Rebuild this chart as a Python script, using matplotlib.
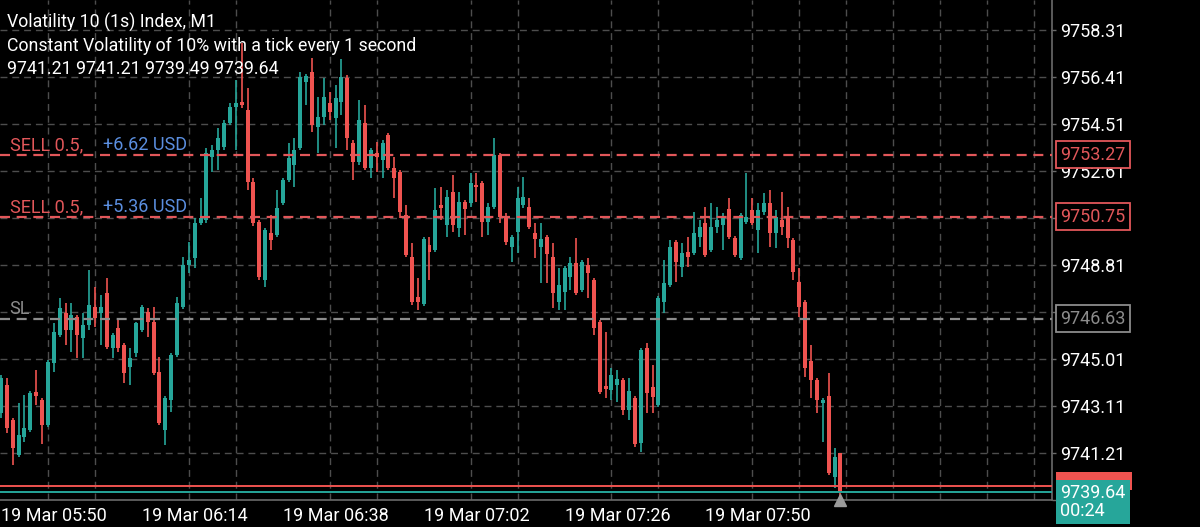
import matplotlib
matplotlib.use('Agg')
import matplotlib.pyplot as plt
from matplotlib.patches import Rectangle
import numpy as np

# one-minute candles, 19 Mar 05:50 onwards
opens = [9742.83, 9743.96, 9742.54, 9741.13, 9741.86, 9742.14, 9743.68, 9743.35, 9742.34, 9744.85,
         9745.98, 9746.87, 9746.18, 9746.71, 9745.86, 9746.38, 9747.11, 9746.87, 9747.68, 9745.45,
         9746.26, 9745.58, 9744.69, 9745.25, 9746.18, 9746.91, 9746.50, 9744.48, 9742.14, 9743.35,
         9745.17, 9747.11, 9748.81, 9749.09, 9750.51, 9750.63, 9753.17, 9753.46, 9753.58, 9754.55,
         9755.20, 9755.40, 9755.07, 9752.16, 9750.55, 9748.20, 9750.10, 9750.02, 9751.31, 9752.24,
         9752.85, 9753.54, 9756.21, 9756.61, 9754.39, 9754.79, 9755.36, 9754.75, 9755.40, 9756.37,
         9753.74, 9752.97, 9754.55, 9752.73, 9753.34, 9753.05, 9754.06, 9752.73, 9752.57, 9750.83,
         9749.13, 9747.52, 9747.23, 9749.62, 9749.42, 9751.23, 9750.43, 9751.76, 9750.30, 9751.35,
         9751.31, 9752.04, 9752.12, 9750.55, 9751.15, 9753.25, 9750.75, 9749.54, 9750.14, 9751.23,
         9751.15, 9750.10, 9749.54, 9749.94, 9749.13, 9747.31, 9747.72, 9748.32, 9748.89, 9747.80,
         9748.81, 9748.20, 9746.50, 9743.92, 9743.76, 9743.96, 9744.16, 9742.95, 9743.43, 9741.61,
         9745.45, 9743.88, 9743.15, 9747.31, 9748.00, 9749.74, 9748.73, 9749.33, 9749.29, 9749.94,
         9750.51, 9749.42, 9750.34, 9750.43, 9751.07, 9749.90, 9749.09, 9750.55, 9751.03, 9750.22,
         9750.95, 9751.31, 9750.10, 9750.63, 9750.71, 9749.82, 9748.12, 9747.31, 9744.93, 9744.16,
         9743.23, 9743.51, 9740.24, 9741.21]
highs = [9744.36, 9744.24, 9742.62, 9743.23, 9743.55, 9743.72, 9744.56, 9743.43, 9744.97, 9746.46,
         9747.47, 9747.27, 9747.27, 9746.79, 9746.87, 9748.61, 9747.92, 9747.60, 9748.28, 9746.06,
         9746.59, 9745.66, 9745.45, 9746.50, 9747.19, 9747.07, 9747.11, 9745.09, 9743.51, 9745.25,
         9747.52, 9749.13, 9749.74, 9750.71, 9751.52, 9753.54, 9753.66, 9754.35, 9754.67, 9755.36,
         9756.29, 9757.78, 9755.96, 9752.33, 9750.63, 9750.30, 9750.83, 9751.84, 9752.33, 9753.74,
         9753.94, 9756.61, 9756.53, 9757.18, 9755.60, 9756.37, 9755.80, 9756.08, 9757.14, 9756.49,
         9753.86, 9755.48, 9755.28, 9753.54, 9753.78, 9753.86, 9754.14, 9753.17, 9752.65, 9751.23,
         9749.70, 9748.28, 9749.94, 9749.94, 9751.92, 9751.96, 9751.84, 9752.45, 9751.76, 9751.44,
         9752.53, 9752.53, 9752.20, 9751.31, 9753.94, 9753.34, 9750.91, 9750.02, 9751.96, 9752.37,
         9751.52, 9750.51, 9750.51, 9750.02, 9749.70, 9748.69, 9748.77, 9749.13, 9749.90, 9749.01,
         9749.09, 9748.28, 9746.59, 9746.10, 9744.65, 9744.56, 9744.24, 9744.24, 9743.51, 9745.45,
         9745.66, 9744.77, 9747.56, 9749.01, 9749.82, 9749.82, 9749.70, 9749.94, 9750.95, 9750.63,
         9751.15, 9751.31, 9751.15, 9750.91, 9751.52, 9749.98, 9750.91, 9752.53, 9751.52, 9751.31,
         9751.72, 9751.84, 9751.03, 9751.76, 9751.15, 9749.90, 9748.69, 9747.39, 9745.58, 9744.24,
         9743.43, 9744.44, 9741.41, 9741.21]
lows = [9742.62, 9742.02, 9740.73, 9741.05, 9741.65, 9742.06, 9743.15, 9741.57, 9742.26, 9744.48,
        9745.90, 9745.58, 9745.29, 9745.05, 9745.05, 9746.18, 9746.30, 9745.58, 9745.41, 9745.05,
        9745.29, 9744.04, 9743.96, 9745.09, 9746.10, 9745.90, 9744.36, 9742.34, 9741.53, 9742.87,
        9745.09, 9747.03, 9748.48, 9748.69, 9750.43, 9750.51, 9752.57, 9752.65, 9753.46, 9754.47,
        9753.46, 9755.15, 9751.84, 9750.39, 9748.20, 9747.92, 9749.42, 9749.94, 9751.23, 9752.16,
        9751.96, 9753.46, 9755.28, 9754.19, 9753.34, 9754.47, 9754.67, 9753.54, 9754.87, 9753.46,
        9752.24, 9752.85, 9752.65, 9752.33, 9752.57, 9752.33, 9752.65, 9751.52, 9750.71, 9749.13,
        9747.19, 9746.99, 9747.15, 9748.20, 9749.33, 9750.63, 9749.94, 9750.14, 9749.94, 9750.02,
        9751.15, 9751.35, 9749.94, 9750.02, 9751.07, 9750.51, 9749.62, 9748.93, 9749.29, 9751.11,
        9750.26, 9749.09, 9748.08, 9748.08, 9747.07, 9746.99, 9746.99, 9747.80, 9747.60, 9747.72,
        9747.47, 9745.98, 9743.60, 9743.43, 9743.35, 9743.27, 9742.75, 9742.54, 9741.45, 9741.25,
        9742.83, 9742.83, 9743.07, 9746.87, 9747.92, 9748.12, 9748.32, 9748.73, 9749.21, 9749.54,
        9749.13, 9749.33, 9750.10, 9749.42, 9749.86, 9749.13, 9749.01, 9750.47, 9750.43, 9749.29,
        9750.83, 9749.54, 9749.50, 9750.02, 9749.50, 9748.20, 9746.71, 9744.28, 9743.43, 9742.83,
        9741.65, 9740.32, 9739.80, 9739.49]
closes = [9744.24, 9742.22, 9741.41, 9741.94, 9742.22, 9743.64, 9743.51, 9742.34, 9744.89, 9746.10,
          9747.07, 9746.18, 9746.79, 9745.98, 9746.38, 9747.19, 9746.67, 9747.11, 9745.49, 9745.98,
          9745.45, 9744.44, 9745.05, 9746.46, 9747.11, 9746.50, 9744.44, 9742.42, 9743.43, 9745.17,
          9747.27, 9748.81, 9749.01, 9750.51, 9750.71, 9753.34, 9753.46, 9753.94, 9754.55, 9755.20,
          9755.36, 9755.28, 9752.16, 9750.51, 9748.32, 9750.22, 9749.82, 9751.11, 9752.24, 9753.13,
          9753.46, 9756.41, 9756.45, 9754.47, 9754.79, 9755.60, 9754.99, 9755.56, 9756.41, 9753.94,
          9752.97, 9754.67, 9752.73, 9753.46, 9753.17, 9753.74, 9752.73, 9752.33, 9750.95, 9749.21,
          9747.31, 9747.31, 9749.86, 9749.33, 9751.03, 9751.11, 9751.56, 9750.43, 9751.35, 9751.07,
          9752.12, 9751.96, 9750.55, 9751.15, 9753.25, 9750.75, 9749.74, 9749.94, 9751.52, 9751.56,
          9750.34, 9749.86, 9749.86, 9749.25, 9747.68, 9748.00, 9748.69, 9748.89, 9747.68, 9748.93,
          9748.48, 9746.26, 9743.68, 9743.80, 9744.36, 9744.20, 9742.95, 9743.72, 9741.57, 9745.37,
          9743.64, 9743.47, 9747.47, 9748.08, 9749.54, 9748.93, 9749.29, 9749.13, 9750.10, 9750.34,
          9749.21, 9750.34, 9750.63, 9750.75, 9749.94, 9749.21, 9750.83, 9750.75, 9750.51, 9751.03,
          9751.31, 9750.10, 9750.75, 9750.34, 9749.90, 9748.53, 9747.11, 9744.65, 9744.16, 9743.35,
          9743.35, 9740.40, 9741.05, 9739.64]

time_labels = ['19 Mar 05:50', '19 Mar 06:14', '19 Mar 06:38', '19 Mar 07:02', '19 Mar 07:26', '19 Mar 07:50']
label_every = 24
grid_every = 8
price_ticks = [9758.31, 9756.41, 9754.51, 9752.61, 9750.71, 9748.81, 9746.91, 9745.01, 9743.11, 9741.21, 9739.31]
hidden_ticks = [9750.71, 9746.91, 9739.31]   # covered by the order boxes
sell_levels = [9753.27, 9750.75]
sell_profits = ['+6.62 USD', '+5.36 USD']
sl_level = 9746.63
bid = 9739.64
ask = 9739.88
timer = '00:24'
header = ['Volatility 10 (1s) Index, M1',
          'Constant Volatility of 10% with a tick every 1 second',
          '9741.21 9741.21 9739.49 9739.64']

teal = '#26a69a'
red = '#ef5350'
red_line = '#e2575a'
blue = '#5b8fe0'
grid_col = '#4d4d4d'
axis_col = '#6a6a6a'
sl_col = '#8c8c8c'

plt.rcParams['font.family'] = ['Roboto', 'DejaVu Sans']

fig = plt.figure(figsize=(12, 5.27), dpi=100, facecolor='black')
ax = fig.add_axes([0, 27 / 527, 1052 / 1200, 500 / 527])
ax.set_facecolor('black')

n = len(closes)
x = np.arange(n)
o = np.array(opens)
c = np.array(closes)
up = c >= o
colors = np.where(up, teal, red)

ax.vlines(x, lows, highs, colors=colors, linewidth=1.2, zorder=3)
body_bottom = np.minimum(o, c)
body_h = np.maximum(np.abs(c - o), 0.07)
ax.bar(x, body_h, bottom=body_bottom, width=0.68, color=colors, linewidth=0, zorder=4)

ax.set_xlim(-0.17, 179.05)
ax.set_ylim(9739.31, 9759.52)

# grid
ax.set_xticks(np.arange(len(time_labels)) * label_every)
ax.set_xticklabels(time_labels, ha='left')
ax.set_xticks(np.arange(0, 180, grid_every), minor=True)
ax.xaxis.grid(True, which='minor', color=grid_col, linewidth=1, dashes=(5, 3.5))
ax.yaxis.tick_right()
ax.set_yticks(price_ticks)
ax.set_yticklabels(['' if p in hidden_ticks else '{:.2f}'.format(p) for p in price_ticks])
ax.yaxis.grid(True, which='major', color=grid_col, linewidth=1, dashes=(5, 3.5))
ax.set_axisbelow(True)
ax.tick_params(axis='x', which='both', length=0, pad=5, labelsize=13, labelcolor='white')
ax.tick_params(axis='y', length=3, width=1, color=axis_col, pad=3, labelsize=13, labelcolor='white')
for s in ['left', 'top']:
    ax.spines[s].set_visible(False)
for s in ['right', 'bottom']:
    ax.spines[s].set_color(axis_col)
    ax.spines[s].set_linewidth(1.2)

ytr = ax.get_yaxis_transform()

# open positions
for level, profit in zip(sell_levels, sell_profits):
    ax.axhline(level, color=red_line, linewidth=1.6, dashes=(4.5, 3), zorder=5)
    ax.annotate('SELL 0.5,', xy=(0, level), xycoords=ytr, xytext=(7, 7), textcoords='offset points',
                color=red_line, fontsize=13, va='center', ha='left')
    ax.annotate(profit, xy=(0, level), xycoords=ytr, xytext=(74, 7), textcoords='offset points',
                color=blue, fontsize=13, va='center', ha='left')
    ax.annotate('{:.2f}'.format(level), xy=(1, level), xycoords=ytr, xytext=(6, 0), textcoords='offset points',
                color=red_line, fontsize=13, va='center', ha='left', annotation_clip=False, zorder=10,
                bbox=dict(boxstyle='square,pad=0.25', fc='black', ec=red_line, lw=1.3))

ax.axhline(sl_level, color=sl_col, linewidth=1.6, dashes=(4.5, 3), zorder=5)
ax.annotate('SL', xy=(0, sl_level), xycoords=ytr, xytext=(7, 7), textcoords='offset points',
            color=sl_col, fontsize=13, va='center', ha='left')
ax.annotate('{:.2f}'.format(sl_level), xy=(1, sl_level), xycoords=ytr, xytext=(6, 0), textcoords='offset points',
            color=sl_col, fontsize=13, va='center', ha='left', annotation_clip=False, zorder=10,
            bbox=dict(boxstyle='square,pad=0.25', fc='black', ec=sl_col, lw=1.3))

# bid / ask
ax.axhline(ask, color=red, linewidth=1.4, zorder=5)
ax.axhline(bid, color=teal, linewidth=1.4, zorder=5)
ax.add_patch(Rectangle((1.004, ask - 0.15), 0.072, 0.72, transform=ytr, facecolor=red,
                       edgecolor='none', clip_on=False, zorder=10))
ax.annotate('{:.2f}\n{}'.format(bid, timer), xy=(1, bid), xytext=(6, 5.5), xycoords=ytr, textcoords='offset points',
            color='white', fontsize=13, va='top', ha='left', annotation_clip=False, zorder=11, linespacing=1.0,
            bbox=dict(boxstyle='square,pad=0.22', fc=teal, ec=teal, lw=0))

# current candle marker
ax.plot([n - 1], [ax.get_ylim()[0]], marker='^', color='#9a9a9a', markersize=8, clip_on=False, zorder=6)

# header
for k, line in enumerate(header):
    fig.text(7 / 1200, 1 - (22 + 23.5 * k) / 527, line, color='white', fontsize=12.8, va='center', ha='left')

fig.savefig('out.png', dpi=100, facecolor='black')
